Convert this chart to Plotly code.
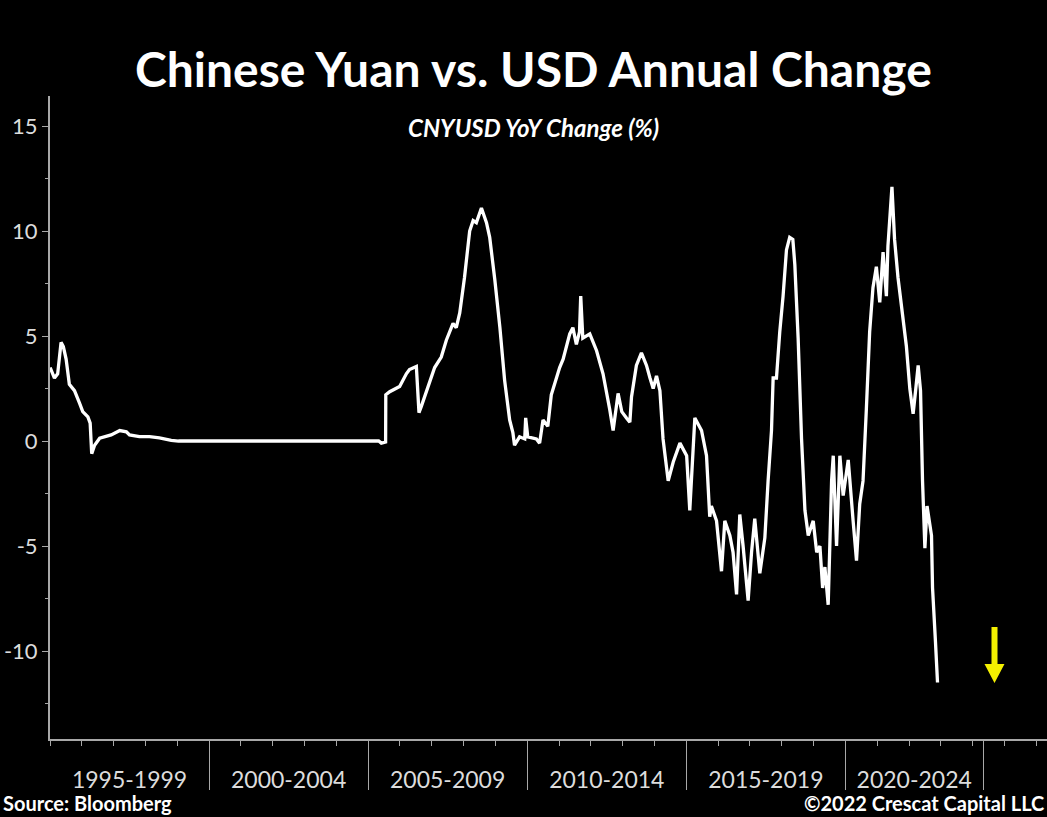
import plotly.graph_objects as go

# CNYUSD year-over-year change (%), sampled at turning points of the series
dates = [
    "1995-01-03", "1995-02-21", "1995-03-30", "1995-05-08", "1995-06-03", "1995-07-05",
    "1995-08-11", "1995-10-09", "1995-12-06", "1996-01-12", "1996-03-11", "1996-04-06",
    "1996-04-24", "1996-05-27", "1996-07-24", "1996-10-09", "1996-12-03", "1997-03-12",
    "1997-05-27", "1997-07-02", "1997-10-24", "1998-02-17", "1998-06-10", "1998-10-24",
    "1999-01-15", "2005-05-01", "2005-06-01", "2005-07-20", "2005-07-22",
    "2005-09-05", "2005-12-28", "2006-03-15", "2006-04-20", "2006-07-08", "2006-08-07",
    "2006-09-03", "2006-10-31", "2007-02-03", "2007-04-20", "2007-06-17", "2007-09-02",
    "2007-10-09", "2007-11-18", "2008-01-12", "2008-03-11", "2008-04-20", "2008-05-27",
    "2008-07-24", "2008-09-20", "2008-10-27", "2008-12-24", "2009-02-21", "2009-04-16",
    "2009-06-13", "2009-07-20", "2009-08-08", "2009-10-05", "2009-12-03", "2009-12-14",
    "2010-01-07", "2010-04-16", "2010-05-23", "2010-07-01", "2010-08-25", "2010-10-04",
    "2010-12-02", "2011-01-08", "2011-02-17", "2011-03-26", "2011-05-04", "2011-06-09",
    "2011-07-19", "2011-08-24", "2011-09-07", "2011-10-01", "2011-12-20", "2012-03-07",
    "2012-05-20", "2012-08-05", "2012-09-13", "2012-11-09", "2012-12-21", "2013-02-13",
    "2013-03-24", "2013-04-12", "2013-06-07", "2013-08-04", "2013-10-01", "2013-11-10",
    "2013-12-17", "2014-01-24", "2014-03-04", "2014-04-09", "2014-06-07", "2014-08-04",
    "2014-10-20", "2015-01-05", "2015-02-10", "2015-04-09", "2015-06-25", "2015-08-21",
    "2015-09-27", "2015-10-16", "2015-12-14", "2016-02-09", "2016-03-18", "2016-05-15",
    "2016-06-21", "2016-07-31", "2016-09-06", "2016-10-14", "2016-12-11", "2017-01-19",
    "2017-02-25", "2017-04-24", "2017-06-21", "2017-07-28", "2017-09-05", "2017-09-24",
    "2017-11-01", "2017-12-09", "2018-01-16", "2018-02-24", "2018-04-02", "2018-05-08",
    "2018-05-31", "2018-07-08", "2018-08-16", "2018-09-24", "2018-11-01", "2018-12-28",
    "2019-02-06", "2019-03-15", "2019-04-15", "2019-05-11", "2019-06-18", "2019-07-27",
    "2019-08-15", "2019-09-22", "2019-10-30", "2019-12-07", "2020-02-03", "2020-03-30",
    "2020-05-08", "2020-06-14", "2020-07-22", "2020-08-29", "2020-10-06", "2020-11-13",
    "2020-12-22", "2021-01-30", "2021-03-09", "2021-04-16", "2021-05-04", "2021-06-19",
    "2021-07-19", "2021-08-27", "2021-10-24", "2021-12-02", "2022-01-10", "2022-02-17",
    "2022-03-20", "2022-04-16", "2022-05-13", "2022-06-05", "2022-07-02", "2022-07-27",
    "2022-09-16", "2022-09-28", "2022-11-01", "2022-11-24",
]
yoy_change = [
    3.5, 3.0, 3.2, 4.7, 4.5, 3.9,
    2.7, 2.4, 1.8, 1.4, 1.15, 0.85,
    -0.6, -0.2, 0.13, 0.21, 0.29, 0.5,
    0.44, 0.29, 0.21, 0.21, 0.15, 0.03,
    0.0, 0.0, -0.1, -0.05, 2.2,
    2.35, 2.6, 3.2, 3.4, 3.55, 1.35,
    1.65, 2.4, 3.5, 4.0, 4.8, 5.6,
    5.4, 6.1, 7.8, 10.0, 10.5, 10.4,
    11.1, 10.4, 9.7, 7.7, 5.4, 2.9,
    1.0, 0.4, -0.2, 0.2, 0.1, 1.1,
    0.2, 0.1, -0.1, 1.0, 0.7, 2.2,
    3.0, 3.5, 3.9, 4.5, 5.1, 5.4,
    4.6, 5.2, 6.9, 4.9, 5.1, 4.3,
    3.2, 1.5, 0.5, 2.27, 1.4, 1.1,
    0.9, 2.1, 3.6, 4.2, 3.6, 3.0,
    2.5, 3.1, 2.4, 0.1, -1.9, -1.0,
    -0.1, -0.7, -3.3, 1.1, 0.5, -0.7,
    -3.6, -3.1, -3.8, -6.2, -3.8, -4.5,
    -5.3, -7.3, -3.5, -5.0, -7.6, -5.3,
    -3.7, -6.3, -4.6, -1.9, 0.5, 3.0,
    3.0, 5.2, 6.9, 9.1, 9.7, 9.6,
    8.4, 4.9, 0.1, -3.3, -4.5, -3.8,
    -5.3, -5.0, -7.0, -6.0, -7.8, -1.9,
    -0.7, -5.0, -0.7, -2.6, -0.9, -3.8,
    -5.7, -3.0, -1.9, 1.5, 5.2, 7.3,
    8.3, 6.6, 9.0, 6.9, 9.3, 12.1,
    9.6, 7.8, 5.9, 4.5, 2.5, 1.3,
    2.5, 3.6, 2.4, -1.9, -5.1, -3.1,
    -4.5, -7.0, -9.6, -11.5,
]

# Axis layout values
period_labels = ["1995-1999", "2000-2004", "2005-2009", "2010-2014", "2015-2019", "2020-2024"]
period_label_dates = ["1997-07-02", "2002-07-02", "2007-07-02", "2012-07-02", "2017-07-02", "2022-03-01"]
period_bounds = ["2000-01-01", "2005-01-01", "2010-01-01", "2015-01-01", "2020-01-01", "2024-05-01"]
year_ticks = [f"{y}-01-01" for y in range(1995, 2027)]
y_tick_vals = [-10, -5, 0, 5, 10, 15]
y_tick_text = ["-10", "-5", "0", "5", "10", "15"]

W, H = 1047, 817
ML, MR, MT, MB = 50, 0, 96, 78
PW, PH = W - ML - MR, H - MT - MB


def px(x):
    return (x - ML) / PW


def py(y):
    return (H - MB - y) / PH


AXIS = "#a8a8a8"
LABEL = "#dcdcdc"
FONT = "Lato"

fig = go.Figure()
fig.add_trace(go.Scatter(
    x=dates, y=yoy_change, mode="lines",
    line=dict(color="white", width=3.3),
    hoverinfo="skip", showlegend=False,
))
# invisible trace carrying the overlay axis used for period separators
fig.add_trace(go.Scatter(x=[dates[0]], y=[0], xaxis="x2", mode="markers",
                         marker=dict(opacity=0), showlegend=False, hoverinfo="skip"))

fig.update_layout(
    width=W, height=H,
    margin=dict(l=ML, r=MR, t=MT, b=MB),
    paper_bgcolor="black", plot_bgcolor="black",
    font=dict(family=FONT, color=LABEL),
    xaxis=dict(
        type="date", range=["1995-01-01", "2026-05-04"],
        showgrid=False, zeroline=False,
        showline=True, linecolor=AXIS, linewidth=2,
        tickmode="array", tickvals=period_label_dates, ticktext=period_labels,
        ticks="outside", ticklen=19, tickcolor="rgba(0,0,0,0)",
        tickfont=dict(family=FONT, size=23, color=LABEL),
        minor=dict(tickmode="array", tickvals=year_ticks, ticks="outside",
                   ticklen=5, tickwidth=1, tickcolor=AXIS, showgrid=False),
    ),
    xaxis2=dict(
        type="date", range=["1995-01-01", "2026-05-04"], overlaying="x",
        matches="x", showgrid=False, zeroline=False, showline=False,
        tickmode="array", tickvals=period_bounds, showticklabels=False,
        ticks="outside", ticklen=50, tickwidth=1, tickcolor=AXIS, side="bottom",
    ),
    yaxis=dict(
        range=[-14.19, 16.43], showgrid=False, zeroline=False,
        showline=True, linecolor=AXIS, linewidth=2,
        tickmode="array", tickvals=y_tick_vals, ticktext=y_tick_text,
        ticks="outside", ticklen=6, tickwidth=1, tickcolor=AXIS,
        tickfont=dict(family=FONT, size=22, color=LABEL),
        minor=dict(dtick=2.5, tick0=0, ticks="outside", ticklen=3,
                   tickwidth=1, tickcolor=AXIS, showgrid=False),
    ),
)

fig.add_annotation(text="<b>Chinese Yuan vs. USD Annual Change</b>",
                   xref="paper", yref="paper", x=px(533), y=py(68),
                   xanchor="center", yanchor="middle", showarrow=False,
                   font=dict(family=FONT, size=48, color="white"))
fig.add_annotation(text="<b><i>CNYUSD YoY Change (%)</i></b>",
                   xref="paper", yref="paper", x=px(533), y=py(127),
                   xanchor="center", yanchor="middle", showarrow=False,
                   font=dict(family=FONT, size=24, color="white"))
fig.add_annotation(text="<b>Source: Bloomberg</b>",
                   xref="paper", yref="paper", x=px(1), y=py(803),
                   xanchor="left", yanchor="middle", showarrow=False,
                   font=dict(family=FONT, size=20, color="white"))
fig.add_annotation(text="<b>©2022 Crescat Capital LLC</b>",
                   xref="paper", yref="paper", x=px(1046), y=py(803),
                   xanchor="right", yanchor="middle", showarrow=False,
                   font=dict(family=FONT, size=20, color="white"))

# yellow down arrow
arrow_pts = [(991.5, 627), (997.5, 627), (997.5, 664), (1004.5, 664),
             (994.5, 683), (984.5, 664), (991.5, 664)]
path = "M " + " L ".join(f"{px(a):.5f},{py(b):.5f}" for a, b in arrow_pts) + " Z"
fig.add_shape(type="path", path=path, xref="paper", yref="paper",
              fillcolor="#f4f000", line=dict(width=0))

fig.write_html("out.html")
